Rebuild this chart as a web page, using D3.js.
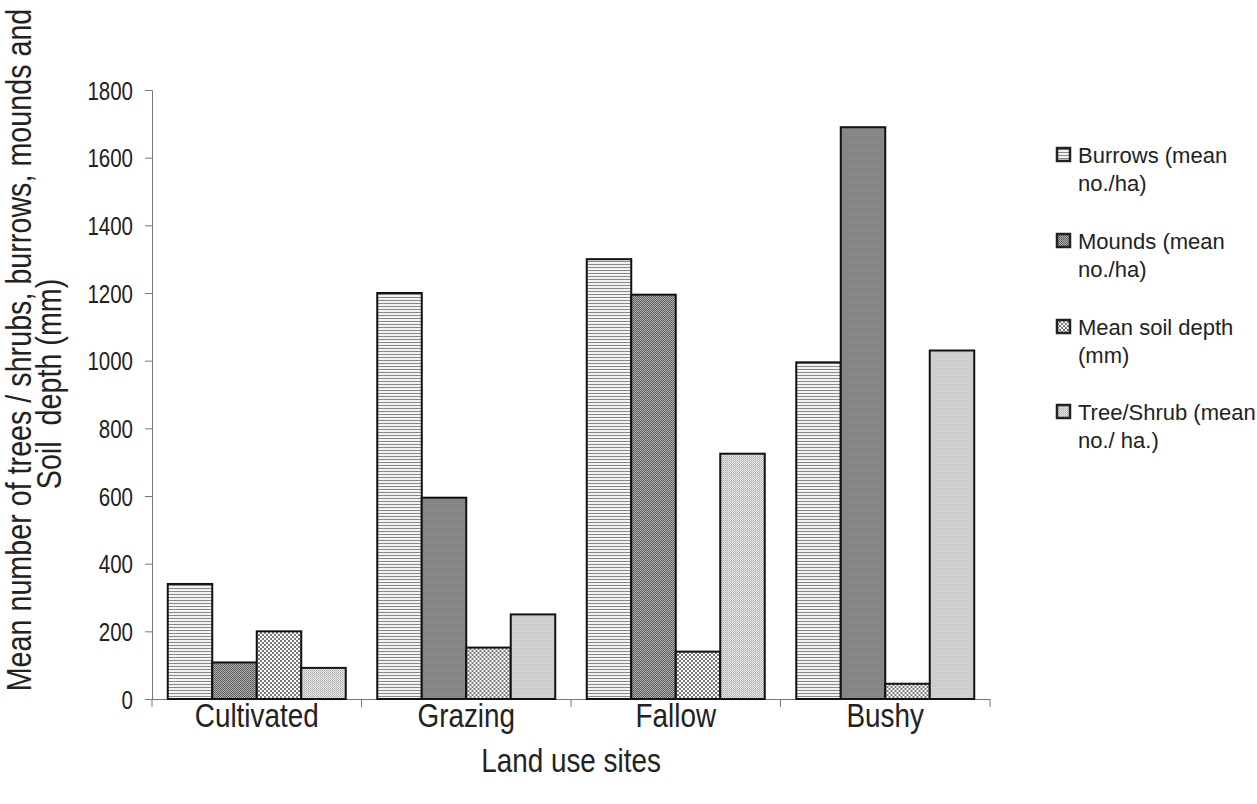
<!DOCTYPE html>
<html>
<head>
<meta charset="utf-8">
<script src="https://cdn.jsdelivr.net/npm/d3@7"></script>
<style>
  body { margin: 0; background: #fff; }
  svg text { font-family: "Liberation Sans", Arial, Helvetica, sans-serif; fill: #222; }
</style>
</head>
<body>
<svg id="chart" width="1257" height="804"></svg>
<script>
const categories = ["Cultivated", "Grazing", "Fallow", "Bushy"];
const seriesNames = ["Burrows (mean no./ha)", "Mounds (mean no./ha)", "Mean soil depth (mm)", "Tree/Shrub (mean no./ ha.)"];
const legendLines = [["Burrows (mean", "no./ha)"], ["Mounds (mean", "no./ha)"], ["Mean soil depth", "(mm)"], ["Tree/Shrub (mean", "no./ ha.)"]];
const burrows = [340, 1200, 1300, 995];
const mounds = [108, 595, 1195, 1690];
const soilDepth = [200, 152, 140, 45];
const treeShrub = [92, 250, 725, 1030];
const yTicks = [0, 200, 400, 600, 800, 1000, 1200, 1400, 1600, 1800];
const seriesValues = [burrows, mounds, soilDepth, treeShrub];

const NARROW = 0.82; // horizontal condensing to mimic a narrow Helvetica
const svg = d3.select("#chart");
const plot = { left: 152, right: 990, top: 90, bottom: 699 };

const defs = svg.append("defs");
// Burrows: horizontal lines
const p0 = defs.append("pattern").attr("id", "pat0").attr("width", 4).attr("height", 3).attr("patternUnits", "userSpaceOnUse");
p0.append("rect").attr("width", 4).attr("height", 3).attr("fill", "#f2f2f2");
p0.append("rect").attr("width", 4).attr("height", 1).attr("fill", "#8a8a8a");
// Mounds: dense dark dots
const p1 = defs.append("pattern").attr("id", "pat1").attr("width", 2).attr("height", 2).attr("patternUnits", "userSpaceOnUse");
p1.append("rect").attr("width", 2).attr("height", 2).attr("fill", "#b0b0b0");
p1.append("rect").attr("width", 1).attr("height", 1).attr("fill", "#555");
p1.append("rect").attr("x", 1).attr("y", 1).attr("width", 1).attr("height", 1).attr("fill", "#666");
// Soil depth: checker crosshatch
const p2 = defs.append("pattern").attr("id", "pat2").attr("width", 4).attr("height", 4).attr("patternUnits", "userSpaceOnUse");
p2.append("rect").attr("width", 4).attr("height", 4).attr("fill", "#fdfdfd");
p2.append("rect").attr("width", 2).attr("height", 2).attr("fill", "#6a6a6a");
p2.append("rect").attr("x", 2).attr("y", 2).attr("width", 2).attr("height", 2).attr("fill", "#6a6a6a");
p2.append("rect").attr("x", 0.5).attr("y", 0.5).attr("width", 1).attr("height", 1).attr("fill", "#aaa");
p2.append("rect").attr("x", 2.5).attr("y", 2.5).attr("width", 1).attr("height", 1).attr("fill", "#aaa");
// Tree/Shrub: fine light gray
const p3 = defs.append("pattern").attr("id", "pat3").attr("width", 2).attr("height", 2).attr("patternUnits", "userSpaceOnUse");
p3.append("rect").attr("width", 2).attr("height", 2).attr("fill", "#e6e6e6");
p3.append("rect").attr("width", 1).attr("height", 1).attr("fill", "#ababab");
p3.append("rect").attr("x", 1).attr("y", 1).attr("width", 1).attr("height", 1).attr("fill", "#c0c0c0");

const x0 = d3.scaleBand().domain(categories).range([plot.left, plot.right]).paddingInner(0).paddingOuter(0);
const x1 = d3.scaleBand().domain(d3.range(4)).range([0, x0.bandwidth()]).paddingInner(0).paddingOuter(0.354);
const y = d3.scaleLinear().domain([0, 1800]).range([plot.bottom, plot.top]);

// Y axis
const yAxis = d3.axisLeft(y).tickValues(yTicks).tickSize(7).tickPadding(12).tickFormat(d3.format("d"));
const gy = svg.append("g").attr("transform", `translate(${plot.left},0)`).call(yAxis);
gy.select(".domain").attr("stroke", "#777").attr("stroke-width", 1);
gy.selectAll(".tick line").attr("stroke", "#777");
gy.selectAll(".tick text")
  .style("font-size", "25px").attr("fill", "#222").attr("dy", "0.36em")
  .attr("x", -19 / NARROW).attr("transform", `scale(${NARROW},1)`);

// X axis
const xAxis = d3.axisBottom(x0).tickSize(0);
const gx = svg.append("g").attr("transform", `translate(0,${plot.bottom})`).call(xAxis);
gx.select(".domain").attr("stroke", "#777").attr("stroke-width", 1);
gx.selectAll(".tick text")
  .style("font-size", "34px").attr("fill", "#222").attr("dy", 0).attr("y", 28)
  .attr("transform", `scale(${NARROW},1)`);
// category boundary ticks
const bounds = categories.map(c => x0(c)).concat([plot.right]);
svg.append("g").selectAll("line").data(bounds).join("line")
  .attr("x1", d => d).attr("x2", d => d)
  .attr("y1", plot.bottom).attr("y2", plot.bottom + 8)
  .attr("stroke", "#777").attr("stroke-width", 1);

// Bars
const groups = svg.append("g").selectAll("g").data(categories).join("g")
  .attr("transform", c => `translate(${x0(c)},0)`);
groups.selectAll("rect")
  .data((c, ci) => seriesValues.map((vals, si) => ({ si, v: vals[ci] })))
  .join("rect")
  .attr("x", d => x1(d.si))
  .attr("width", x1.bandwidth())
  .attr("y", d => y(d.v))
  .attr("height", d => y(0) - y(d.v))
  .attr("fill", d => `url(#pat${d.si})`)
  .attr("stroke", "#111")
  .attr("stroke-width", 2);

// Axis titles
svg.append("text")
  .attr("transform", `translate(${plot.left + (plot.right - plot.left) / 2},772) scale(${NARROW},1)`)
  .attr("text-anchor", "middle")
  .style("font-size", "34px")
  .text("Land use sites");

svg.append("text")
  .attr("transform", `translate(31,350) rotate(-90) scale(${NARROW},1)`)
  .attr("text-anchor", "middle")
  .style("font-size", "35px")
  .text("Mean number of trees / shrubs, burrows, mounds and");
svg.append("text")
  .attr("transform", `translate(61,384) rotate(-90) scale(${NARROW},1)`)
  .attr("text-anchor", "middle")
  .style("font-size", "35px")
  .style("white-space", "pre")
  .text("Soil  depth (mm)");

// Legend
const legendTop = [155, 241, 327, 412];
const lg = svg.append("g").selectAll("g").data(seriesNames).join("g")
  .attr("transform", (d, i) => `translate(1057,${legendTop[i]})`);
lg.append("rect")
  .attr("x", 0).attr("y", -7).attr("width", 13).attr("height", 13)
  .attr("fill", (d, i) => `url(#pat${i})`)
  .attr("stroke", "#222").attr("stroke-width", 2.5);
lg.each(function(d, i) {
  const g = d3.select(this);
  legendLines[i].forEach((line, li) => {
    g.append("text").attr("x", 21).attr("y", li * 28).attr("dy", "0.35em")
      .style("font-size", "22px").text(line);
  });
});
</script>
</body>
</html>
